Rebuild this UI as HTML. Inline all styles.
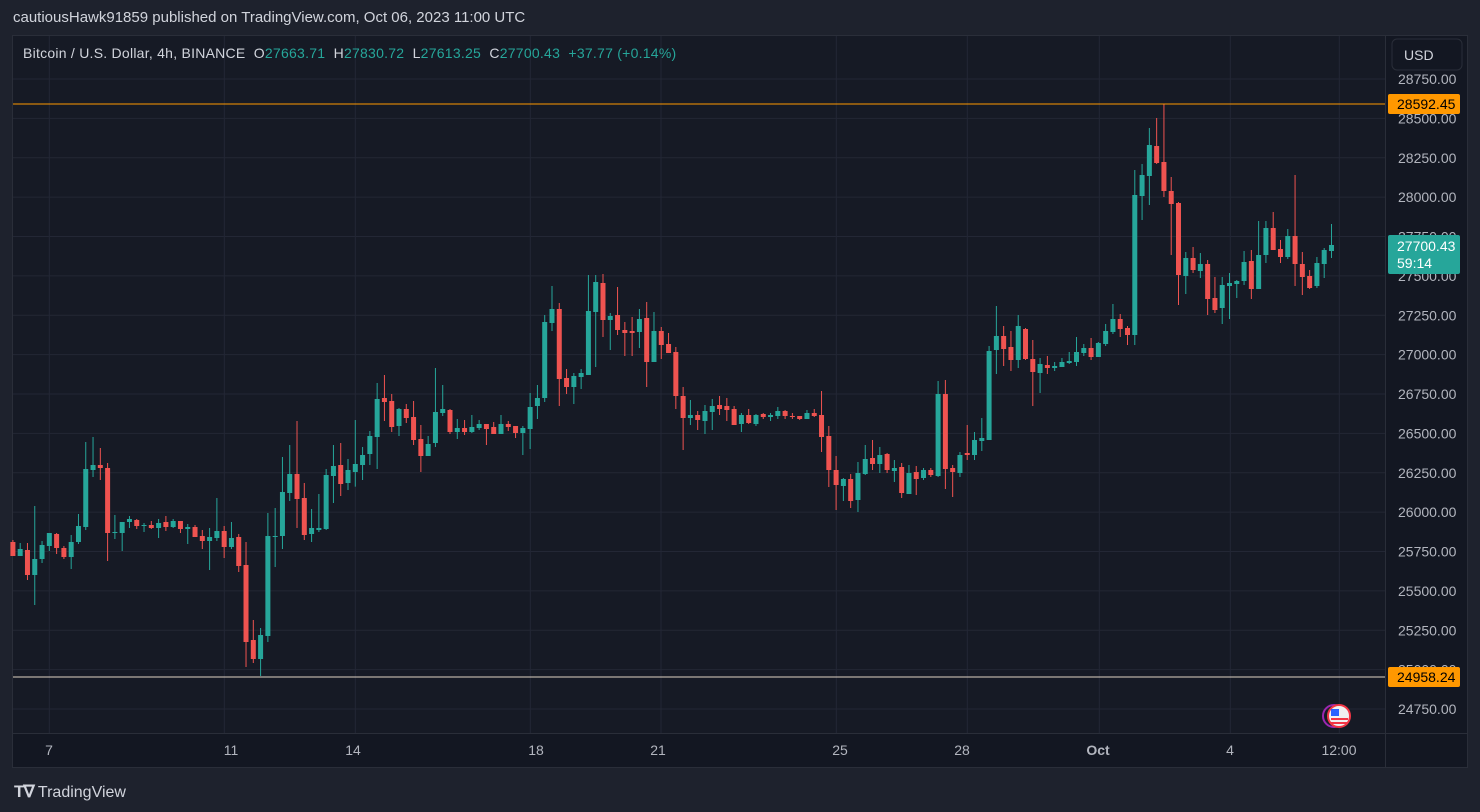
<!DOCTYPE html>
<html><head><meta charset="utf-8"><style>
html,body{margin:0;padding:0;background:#1e222d;width:1480px;height:812px;overflow:hidden;font-family:"Liberation Sans",sans-serif}
#top{position:absolute;left:13px;top:9px;font-size:15px;color:#d1d4dc}
#panel{position:absolute;left:12px;top:35px;width:1456px;height:733px;background:#131722;border:1px solid #2a2e39;box-sizing:border-box}
svg{position:absolute;left:0;top:0}
#logo{position:absolute;left:14px;top:782px;color:#d1d4dc;font-size:16px}
</style></head><body>
<div id="top">cautiousHawk91859 published on TradingView.com, Oct 06, 2023 11:00 UTC</div>
<div id="panel"></div>
<svg id="s" width="1480" height="812"></svg>
<div id="logo"><b style="font-size:17px;letter-spacing:-1px">T∇</b> TradingView</div>
<script>
const S=document.getElementById('s');let h='';
h+='<rect x="13" y="36" width="1372" height="697" fill="#161a25"/>';
for(let k=0;k<17;k++){const y=79+k*39.375;h+=`<line x1="13" x2="1385" y1="${y}" y2="${y}" stroke="#232735"/>`;}
const gx=[[49.3,'7',49],[224.3,'11',231],[355.3,'14',353],[530.3,'18',536],[661,'21',658],[836.3,'25',840],[967.3,'28',962],[1099.3,'Oct',1098],[1230.3,'4',1230],[1339.3,'12:00',1339]];
gx.forEach(g=>{h+=`<line x1="${g[0]}" x2="${g[0]}" y1="36" y2="733" stroke="#232735"/>`;h+=`<text x="${g[2]}" y="755" fill="#b2b5be" font-size="14" text-anchor="middle" ${g[1]=='Oct'?'font-weight="bold"':''}>${g[1]}</text>`});
h+='<line x1="12" x2="1468" y1="733.5" y2="733.5" stroke="#2a2e39"/><line x1="1385.5" x2="1385.5" y1="36" y2="768" stroke="#2a2e39"/>';
const segs=[
{y0:360,s:0,c:[['r',546,588,540,588],['g',567,588,549,588],['r',570,645,549,660],['g',597,645,438,735],['g',555,597,543,609],['g',519,558,519,573],['r',522,564,519,582],['r',564,591,558,597],['g',546,591,525,627],['g',498,546,462,552],['g',327,501,246,510],['g',315,330,231,351],['r',315,324,264,360],['r',324,519,309,603],['g',516,519,465,537],['g',486,519,486,573],['g',477,486,468,504],['r',480,498,477,507],['g',495,498,489,516],['r',495,504,483,507],['g',489,504,477,534],['r',486,501,468,513],['g',483,501,477,504],['r',483,507,483,519],['g',501,507,492,552],['r',501,531,495,531],['r',528,543,510,567],['g',531,543,504,630],['g',513,534,414,543],['r',513,561,498,594],['g',534,561,486,567],['r',531,618,522,636],['r',615,846,546,921],['r',840,897,780,909],['g',825,897,804,948],['g',528,828,459,846],['g',528,531,444,621],['g',396,528,291,567],['g',342,399,255,423],['r',342,417,183,504],['r',414,525,369,540],['g',504,522,447,546],['g',504,510,402,516],['g',345,507,327,510],['g',318,348,255,429],['r',315,372,249,408],['g',330,369,297,390]]},
{y0:260,s:47,c:[['g',612,636,480,680],['g',585,615,561,660],['g',528,582,513,615],['g',417,531,369,627],['r',414,426,345,483],['r',423,501,402,516],['g',447,498,444,528],['r',447,474,432,489],['r',471,540,423,555],['r',537,588,495,636],['g',552,588,528,588],['g',456,549,324,561],['g',447,459,375,468],['r',450,516,447,522],['g',504,516,477,537],['r',504,516,480,525],['g',501,516,465,519],['g',492,504,480,510],['r',492,507,492,555],['r',501,522,486,522],['g',492,522,465,522],['r',492,501,483,513],['r',498,519,498,534],['g',504,519,498,585],['g',441,507,399,567],['g',414,438,375,477],['g',186,414,165,426],['g',147,189,78,213],['r',147,357,129,438],['r',354,381,327,402],['g',348,381,339,432],['g',339,351,327,387],['g',153,345,45,345],['g',66,156,45,321],['r',69,180,42,231],['g',168,180,159,270],['r',165,210,81,225],['r',210,219,186,288],['r',213,219,171,288],['g',177,216,147,264],['r',174,306,126,381],['g',213,306,156,306],['r',213,255,201,297],['r',252,279,219,279],['r',276,408,261,447]]},
{y0:290,s:92,c:[['r',318,384,291,480],['g',375,384,330,405],['r',375,390,363,420],['g',363,393,345,432],['g',348,366,327,420],['r',345,357,318,375],['r',348,360,324,393],['r',357,405,348,405],['g',375,402,369,426],['r',375,399,357,402],['g',375,402,372,408],['r',372,381,369,387],['g',375,381,369,393],['g',363,378,351,387],['r',363,378,360,387],['r',378,381,369,387],['r',378,387,378,390],['g',369,387,360,387],['r',369,378,357,381],['r',375,441,303,486],['r',438,540,408,591],['r',540,585,498,660],['g',567,588,564,633],['r',567,633,552,654],['g',549,630,516,666],['g',507,552,465,555],['r',504,522,450,540],['g',495,522,471,549],['r',492,540,489,549],['g',534,543,510,576],['r',531,609,519,624],['g',549,612,525,612],['r',546,567,528,615],['g',540,564,534,570],['r',540,555,534,561],['g',312,558,273,561],['r',312,537,270,597],['r',534,546,525,621],['g',495,549,486,561],['r',489,495,405,510],['g',450,495,426,510],['g',444,453,384,483],['g',183,450,168,450],['g',138,180,48,252],['r',138,177,108,228]]},
{y0:290,s:137,c:[['r',171,210,123,243],['g',108,210,75,234],['r',117,207,114,210],['r',207,246,150,348],['g',222,249,204,309],['r',225,234,198,252],['g',228,234,216,243],['g',216,231,204,231],['g',213,219,186,222],['g',186,216,141,228],['g',174,189,162,198],['r',174,201,144,210],['g',159,201,156,201]]},
{y0:95,s:150,c:[['g',708,747,687,753],['g',672,711,627,717],['r',672,702,657,726],['r',699,720,693,750],['g',300,720,225,750],['g',240,303,207,375],['g',150,243,99,330],['r',153,204,69,207],['r',201,288,27,306],['r',288,327,246,480],['r',324,540,321,630],['g',489,543,471,597],['r',489,525,456,534],['g',507,528,474,549],['r',507,612,495,660],['r',609,645,546,654],['g',570,639,546,687],['g',564,573,534,672],['g',558,567,555,609],['g',501,558,468,570],['r',498,582,465,612],['g',480,582,378,582],['g',399,480,378,504],['r',399,465,351,465],['r',462,486,435,504],['g',423,486,402,492],['r',423,507,240,573],['r',507,546,471,600],['r',543,579,525,582],['g',504,573,486,579],['g',465,507,459,549],['g',450,468,387,489]]}];
segs.forEach(sg=>sg.c.forEach((c,j)=>{const i=sg.s+j,x=12.9+i*7.285,col=c[0]=='g'?'#26a69a':'#ef5350',Y=v=>sg.y0+v/3;
const bt=Y(c[1]),bb=Math.max(Y(c[2]),bt+1);h+=`<line x1="${x}" x2="${x}" y1="${Y(c[3])}" y2="${Y(c[4])}" stroke="${col}"/><rect x="${x-2.5}" y="${bt}" width="5" height="${bb-bt}" fill="${col}"/>`;}));
h+='<line x1="13" x2="1385" y1="104" y2="104" stroke="#ff9800"/><line x1="13" x2="1385" y1="677" y2="677" stroke="#e0d4c4"/>';
const p=[28750,28500,28250,28000,27750,27500,27250,27000,26750,26500,26250,26000,25750,25500,25250,25000,24750];
p.forEach((v,k)=>{h+=`<text x="1398" y="${79+k*39.375+5}" fill="#b2b5be" font-size="14">${v.toFixed(2)}</text>`});
h+='<rect x="1392" y="39" width="70" height="31" rx="5" fill="#131722" stroke="#2a2e39"/><text x="1404" y="60" fill="#d1d4dc" font-size="14">USD</text>';
h+='<rect x="1388" y="94" width="72" height="20" rx="2" fill="#ff9800"/><text x="1397" y="109" fill="#000" font-size="14">28592.45</text>';
h+='<rect x="1388" y="667" width="72" height="20" rx="2" fill="#ff9800"/><text x="1397" y="682" fill="#000" font-size="14">24958.24</text>';
h+='<rect x="1388" y="235" width="72" height="39" rx="2" fill="#26a69a"/><text x="1397" y="251" fill="#fff" font-size="14">27700.43</text><text x="1397" y="268" fill="#fff" font-size="14">59:14</text>';
h+='<text x="23" y="58" font-size="14" letter-spacing="0.25" fill="#d1d4dc">Bitcoin / U.S. Dollar, 4h, BINANCE &#160;O<tspan fill="#26a69a">27663.71</tspan> &#160;H<tspan fill="#26a69a">27830.72</tspan> &#160;L<tspan fill="#26a69a">27613.25</tspan> &#160;C<tspan fill="#26a69a">27700.43</tspan> &#160;<tspan fill="#26a69a">+37.77 (+0.14%)</tspan></text>';
h+='<circle cx="1334" cy="716" r="11" fill="none" stroke="#9c27b0" stroke-width="2"/><circle cx="1339" cy="716" r="11" fill="#f0f0f0" stroke="#f23645" stroke-width="2"/><rect x="1331" y="709" width="8" height="7" fill="#2962ff"/><line x1="1331" x2="1348" y1="719" y2="719" stroke="#f23645" stroke-width="2"/><line x1="1331" x2="1348" y1="723" y2="723" stroke="#f23645" stroke-width="2"/>';
S.innerHTML=h;
</script>
</body></html>
